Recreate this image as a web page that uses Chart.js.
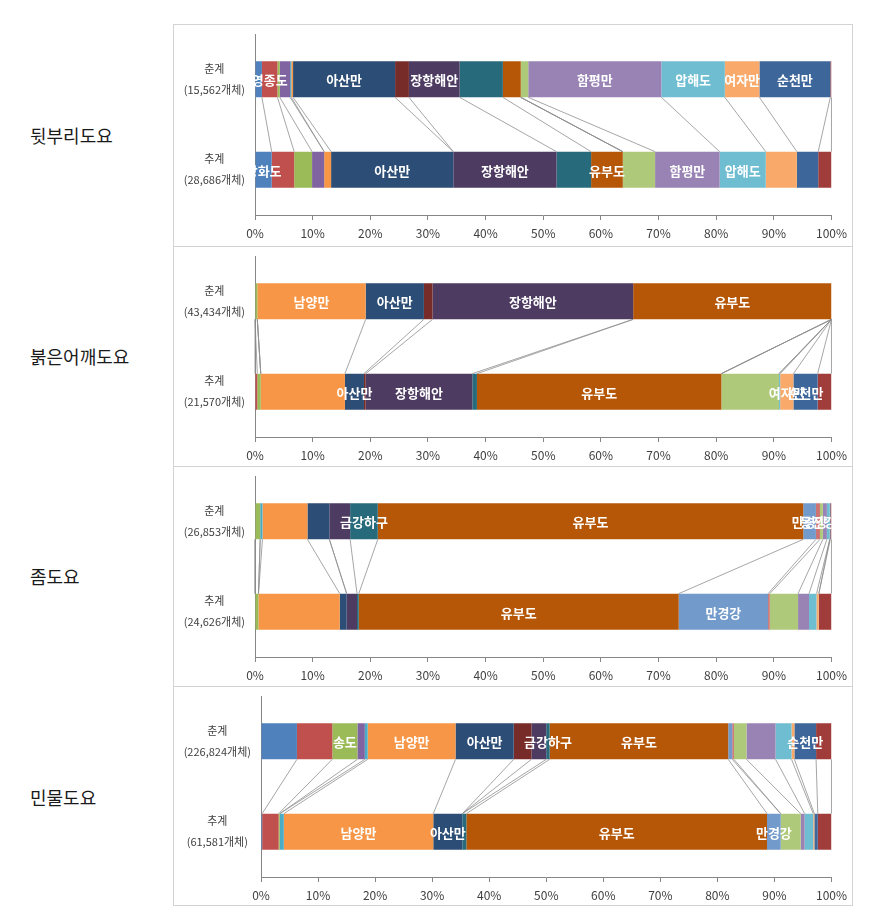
<!DOCTYPE html>
<html>
<head>
<meta charset="utf-8">
<script src="https://cdn.jsdelivr.net/npm/chart.js@4.4.1/dist/chart.umd.min.js"></script>
<style>
  body {
    margin: 0;
    width: 870px;
    height: 916px;
    background: #ffffff;
    position: relative;
    font-family: "Noto Sans CJK KR", sans-serif;
  }
  .Frame {
    position: absolute;
    left: 173px;
    top: 24px;
    width: 680px;
    height: 882px;
    border: 1px solid #d3d3d3;
    box-sizing: border-box;
  }
  .Divider {
    position: absolute;
    left: 173px;
    width: 680px;
    height: 1px;
    background: #d3d3d3;
  }
  .Species-Title {
    position: absolute;
    left: 30px;
    font-size: 18px;
    line-height: 22px;
    color: #1a1a1a;
    white-space: nowrap;
  }
  canvas {
    position: absolute;
    left: 173px;
  }
</style>
</head>
<body>
<div class="Frame"></div>
<div class="Divider" style="top: 246px"></div>
<div class="Divider" style="top: 466px"></div>
<div class="Divider" style="top: 686px"></div>

<div class="Species-Title" style="top: 124px">뒷부리도요</div>
<div class="Species-Title" style="top: 345px">붉은어깨도요</div>
<div class="Species-Title" style="top: 565px">좀도요</div>
<div class="Species-Title" style="top: 786px">민물도요</div>

<canvas id="Chart-1" width="680" height="220" style="top: 24px"></canvas>
<canvas id="Chart-2" width="680" height="220" style="top: 246px"></canvas>
<canvas id="Chart-3" width="680" height="220" style="top: 466px"></canvas>
<canvas id="Chart-4" width="680" height="220" style="top: 686px"></canvas>

<script>
// * Data
const sites = [
  "강화도", "영종도", "송도", "시화호", "화성호", "남양만", "아산만",
  "천수만", "장항해안", "금강하구", "유부도", "만경강", "동진강",
  "곰소만", "함평만", "압해도", "여자만", "순천만", "낙동강하구",
];
const seasons = ["춘계", "추계"];
const springCounts = ["15,562", "43,434", "26,853", "226,824"];
const fallCounts = ["28,686", "21,570", "24,626", "61,581"];
const xTicks = [0, 10, 20, 30, 40, 50, 60, 70, 80, 90, 100];

// share (%) of each site, in the order of sites
const spring1 = [1.2, 2.7, 0.4, 1.8, 0.2, 0.3, 17.7, 2.4, 8.8, 7.5, 3.1, 0, 0, 1.3, 23.1, 11.0, 6.0, 12.3, 0.2];
const fall1 = [2.9, 3.9, 3.1, 2.1, 0, 1.2, 21.2, 0, 17.9, 6.0, 5.5, 0, 0, 5.6, 11.2, 8.0, 5.4, 3.7, 2.3];
const spring2 = [0, 0, 0.4, 0, 0, 18.8, 10.1, 1.5, 34.8, 0, 34.4, 0, 0, 0, 0, 0, 0, 0, 0];
const fall2 = [0, 0.4, 0.6, 0, 0, 14.6, 3.3, 0.3, 18.5, 0.8, 42.4, 0, 0, 10.0, 0, 0.2, 2.3, 4.2, 2.4];
const spring3 = [0, 0, 0.9, 0, 0.4, 7.8, 3.8, 0, 3.6, 4.8, 73.8, 2.2, 0.7, 0.5, 0.7, 0.5, 0, 0.1, 0.2];
const fall3 = [0, 0, 0.6, 0, 0, 14.1, 1.2, 0, 1.8, 0.3, 55.5, 15.5, 0.3, 4.9, 1.9, 1.3, 0.4, 0, 2.2];
const spring4 = [6.3, 6.2, 4.4, 1.3, 0.5, 15.4, 10.2, 3.1, 2.6, 0.6, 31.3, 0.7, 0.3, 2.2, 5.1, 2.8, 0.5, 3.8, 2.7];
const fall4 = [0.2, 2.9, 0.2, 0, 0.7, 26.2, 5.1, 0, 0, 0.7, 52.7, 2.4, 0, 3.5, 0.7, 1.5, 0.2, 0.6, 2.4];

// sites that carry a name label on each bar
const springLabels1 = ["영종도", "아산만", "장항해안", "함평만", "압해도", "여자만", "순천만"];
const fallLabels1 = ["강화도", "아산만", "장항해안", "유부도", "함평만", "압해도"];
const springLabels2 = ["남양만", "아산만", "장항해안", "유부도"];
const fallLabels2 = ["아산만", "장항해안", "유부도", "여자만", "순천만"];
const springLabels3 = ["금강하구", "유부도", "만경강", "동진강"];
const fallLabels3 = ["유부도", "만경강"];
const springLabels4 = ["송도", "남양만", "아산만", "금강하구", "유부도", "순천만"];
const fallLabels4 = ["남양만", "아산만", "유부도", "만경강"];

// * Styles
const siteColors = [
  "#4F81BD", "#C0504D", "#9BBB59", "#8064A2", "#4BACC6", "#F79646", "#2C4D75",
  "#772C2A", "#4D3B62", "#276A7C", "#B65708", "#729ACA", "#CD7371",
  "#AFC97A", "#9983B5", "#6FBDD1", "#F9AA6B", "#3D679B", "#A03D3A",
];
const fontFamily = "'Noto Sans CJK KR', sans-serif";
Chart.defaults.font.family = fontFamily;

// * Plugins
// Excel style series lines between the two bars, plus the site name labels
const seriesLinesPlugin = {
  id: "seriesLines",
  afterDatasetsDraw(chart, args, options) {
    const ctx = chart.ctx;
    const area = chart.chartArea;

    ctx.save();
    ctx.strokeStyle = "#8f8f8f";
    ctx.lineWidth = 0.8;
    chart.data.datasets.forEach((ds, i) => {
      const meta = chart.getDatasetMeta(i);
      const top = meta.data[0];
      const bottom = meta.data[1];
      ctx.beginPath();
      ctx.moveTo(top.x, top.y + top.height / 2);
      ctx.lineTo(bottom.x, bottom.y - bottom.height / 2);
      ctx.stroke();
    });
    ctx.restore();

    ctx.save();
    ctx.beginPath();
    ctx.rect(area.left, area.top, area.right - area.left, area.bottom - area.top);
    ctx.clip();
    ctx.fillStyle = "#ffffff";
    ctx.font = "bold 13px " + fontFamily;
    ctx.textAlign = "center";
    ctx.textBaseline = "middle";
    options.labels.forEach((names, barIndex) => {
      names.forEach((name) => {
        const i = sites.indexOf(name);
        const bar = chart.getDatasetMeta(i).data[barIndex];
        ctx.fillText(name, (bar.x + bar.base) / 2, bar.y + 1);
      });
    });
    ctx.restore();
  },
};

// * Functions
function createPanel(canvasId, spring, fall, springLabels, fallLabels, springCount, fallCount, axisWidth) {
  const canvas = document.getElementById(canvasId).getContext("2d");

  const datasets = sites.map((site, i) => ({
    label: site,
    data: [spring[i], fall[i]],
    backgroundColor: siteColors[i],
    borderWidth: 0,
    barPercentage: 0.4,
    categoryPercentage: 1,
  }));

  const config = {
    type: "bar",
    data: {
      labels: [
        [seasons[0], `(${springCount}개체)`],
        [seasons[1], `(${fallCount}개체)`],
      ],
      datasets: datasets,
    },
    options: {
      indexAxis: "y",
      responsive: false,
      animation: false,
      layout: {
        padding: { top: 10, right: 21, bottom: 0, left: 0 },
      },
      scales: {
        x: {
          stacked: true,
          min: 0,
          max: 100,
          afterBuildTicks: (scale) => {
            scale.ticks = xTicks.map((v) => ({ value: v }));
          },
          afterFit: (scale) => {
            scale.height = 29;
          },
          ticks: {
            callback: (value) => value + "%",
            color: "#404040",
            font: { size: 12 },
            padding: 6,
            maxRotation: 0,
          },
          grid: {
            drawOnChartArea: false,
            drawTicks: true,
            tickLength: 5,
            color: "#868686",
          },
          border: { display: true, color: "#868686" },
        },
        y: {
          stacked: true,
          afterFit: (scale) => {
            scale.width = axisWidth;
            scale.paddingTop = 0;
            scale.paddingBottom = 0;
          },
          ticks: {
            crossAlign: "center",
            color: "#404040",
            font: { size: 11, lineHeight: 1.9 },
            padding: 10,
          },
          grid: {
            drawOnChartArea: false,
            drawTicks: false,
          },
          border: { display: true, color: "#868686" },
        },
      },
      plugins: {
        legend: { display: false },
        tooltip: { enabled: false },
        seriesLines: { labels: [springLabels, fallLabels] },
      },
    },
    plugins: [seriesLinesPlugin],
  };

  return new Chart(canvas, config);
}

// * Onload
createPanel("Chart-1", spring1, fall1, springLabels1, fallLabels1, springCounts[0], fallCounts[0], 82);
createPanel("Chart-2", spring2, fall2, springLabels2, fallLabels2, springCounts[1], fallCounts[1], 82);
createPanel("Chart-3", spring3, fall3, springLabels3, fallLabels3, springCounts[2], fallCounts[2], 82);
createPanel("Chart-4", spring4, fall4, springLabels4, fallLabels4, springCounts[3], fallCounts[3], 88);
</script>
</body>
</html>
